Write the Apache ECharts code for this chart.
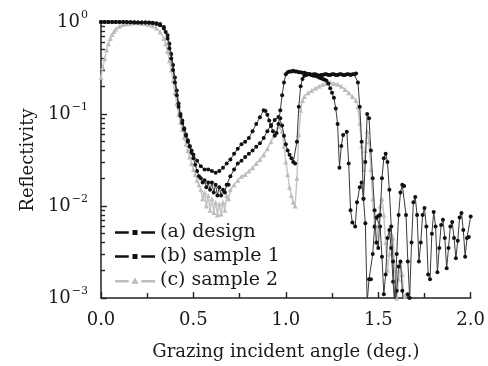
<!DOCTYPE html>
<html>
<head>
<meta charset="utf-8">
<script src="https://cdn.jsdelivr.net/npm/echarts@6/dist/echarts.min.js"></script>
<style>
  html, body { margin: 0; padding: 0; background: #fff; }
  #chart { width: 488px; height: 366px; }
</style>
</head>
<body>
<div id="chart"></div>
<script>
// grazing angle (deg.) , reflectivity
const designPts = [
  [0,1],[0.02,1],[0.04,1],[0.06,1],[0.08,1],[0.1,1],[0.12,1],[0.14,0.995],[0.16,0.995],[0.18,0.99],
  [0.2,0.99],[0.22,0.99],[0.24,0.985],[0.26,0.98],[0.28,0.97],[0.3,0.95],[0.32,0.92],[0.34,0.85],
  [0.35,0.78],[0.36,0.66],[0.37,0.52],[0.38,0.4],[0.39,0.3],[0.4,0.22],[0.41,0.16],[0.42,0.12],
  [0.43,0.095],[0.44,0.08],[0.45,0.068],[0.46,0.058],[0.47,0.05],[0.48,0.044],[0.49,0.04],[0.5,0.036],
  [0.52,0.031],[0.54,0.027],[0.56,0.025],[0.58,0.025],[0.6,0.024],[0.62,0.023],[0.64,0.024],[0.66,0.026],
  [0.68,0.029],[0.7,0.032],[0.72,0.037],[0.74,0.042],[0.76,0.047],[0.78,0.05],[0.8,0.055],[0.82,0.065],
  [0.84,0.078],[0.86,0.092],[0.88,0.11],[0.89,0.108],[0.9,0.098],[0.91,0.085],[0.92,0.074],[0.93,0.065],
  [0.94,0.058],[0.95,0.062],[0.96,0.078],[0.97,0.11],[0.98,0.16],[0.99,0.22],[1,0.27],[1.01,0.285],[1.02,0.29],
  [1.03,0.29],[1.04,0.295],[1.05,0.29],[1.06,0.29],[1.07,0.285],[1.08,0.285],[1.09,0.28],[1.1,0.28],[1.11,0.275],
  [1.12,0.27],[1.13,0.27],[1.14,0.265],[1.15,0.27],[1.16,0.27],[1.17,0.265],[1.18,0.26],[1.19,0.265],
  [1.2,0.265],[1.21,0.27],[1.22,0.27],[1.23,0.265],[1.24,0.265],[1.25,0.27],[1.26,0.27],[1.27,0.265],
  [1.28,0.265],[1.29,0.27],[1.3,0.27],[1.31,0.265],[1.32,0.265],[1.33,0.27],[1.34,0.27],[1.35,0.265],
  [1.36,0.27],[1.37,0.27],[1.38,0.275],[1.39,0.22],[1.4,0.12],[1.41,0.05],[1.42,0.012],[1.43,0.03],[1.44,0.1],
  [1.45,0.09],[1.46,0.04],[1.47,0.02],[1.48,0.009],[1.49,0.004],[1.5,0.0035],[1.51,0.008],[1.52,0.02],
  [1.53,0.033],[1.54,0.037],[1.55,0.03],[1.56,0.015],[1.57,0.006],[1.58,0.0025],[1.59,0.0008],[1.6,0.003],
  [1.61,0.008],[1.62,0.014],[1.63,0.017],[1.64,0.0165],[1.65,0.008],[1.66,0.0025],[1.67,0.001],[1.68,0.004],
  [1.69,0.011],[1.7,0.0125],[1.71,0.008],[1.72,0.0025],[1.73,0.004],[1.74,0.008],[1.75,0.0095],[1.76,0.006],
  [1.77,0.0018],[1.78,0.0016],[1.79,0.005],[1.8,0.0086],[1.81,0.006],[1.82,0.0019],[1.83,0.0035],[1.84,0.0062],
  [1.85,0.0071],[1.86,0.0045],[1.87,0.0021],[1.88,0.0035],[1.89,0.006],[1.9,0.0067],[1.91,0.0045],[1.92,0.0027],
  [1.93,0.0042],[1.94,0.0075],[1.95,0.0084],[1.96,0.0055],[1.97,0.0028],[1.98,0.0045],[1.99,0.0046],[2,0.0077]
];

const sample1Pts = [
  [0,1],[0.02,1],[0.04,1],[0.06,1],[0.08,1],[0.1,1],[0.12,1],[0.14,1],[0.16,0.995],[0.18,0.995],
  [0.2,0.99],[0.22,0.99],[0.24,0.99],[0.26,0.985],[0.28,0.98],[0.3,0.97],[0.32,0.95],[0.34,0.88],
  [0.36,0.72],[0.37,0.58],[0.38,0.45],[0.39,0.34],[0.4,0.25],[0.41,0.18],[0.42,0.13],[0.43,0.1],
  [0.44,0.085],[0.45,0.07],[0.46,0.06],[0.47,0.052],[0.48,0.045],[0.49,0.038],[0.5,0.033],[0.51,0.028],
  [0.52,0.024],[0.53,0.021],[0.54,0.02],[0.55,0.018],[0.56,0.019],[0.57,0.016],[0.58,0.018],[0.59,0.015],
  [0.6,0.018],[0.61,0.014],[0.62,0.017],[0.63,0.013],[0.64,0.016],[0.65,0.013],[0.66,0.015],[0.67,0.014],
  [0.68,0.017],[0.69,0.017],[0.7,0.021],[0.72,0.025],[0.74,0.029],[0.76,0.031],[0.78,0.034],[0.8,0.037],
  [0.82,0.04],[0.84,0.044],[0.86,0.048],[0.88,0.055],[0.9,0.065],[0.92,0.076],[0.94,0.086],[0.96,0.093],
  [0.97,0.09],[0.98,0.075],[0.99,0.058],[1,0.047],[1.01,0.04],[1.02,0.036],[1.03,0.033],[1.04,0.03],
  [1.05,0.029],[1.06,0.05],[1.07,0.12],[1.08,0.2],[1.09,0.24],[1.1,0.26],[1.11,0.265],[1.12,0.27],[1.13,0.27],
  [1.14,0.265],[1.15,0.26],[1.16,0.26],[1.17,0.255],[1.18,0.25],[1.19,0.245],[1.2,0.24],[1.21,0.235],
  [1.22,0.23],[1.23,0.215],[1.24,0.19],[1.25,0.17],[1.26,0.15],[1.27,0.115],[1.28,0.078],[1.29,0.026],
  [1.3,0.045],[1.31,0.059],[1.33,0.064],[1.34,0.029],[1.35,0.009],[1.36,0.0066],[1.375,0.006],[1.385,0.011],
  [1.4,0.016],[1.41,0.018],[1.42,0.012],[1.43,0.0065],[1.44,0.0009],[1.45,0.0016],[1.46,0.0016],[1.47,0.003],
  [1.48,0.006],[1.49,0.0075],[1.5,0.0078],[1.51,0.006],[1.52,0.0028],[1.53,0.0011],[1.54,0.0018],[1.55,0.0045],
  [1.56,0.0055],[1.57,0.0035],[1.58,0.0015],[1.59,0.0008],[1.6,0.0012],[1.61,0.0022],[1.62,0.0025],[1.63,0.0012],
  [1.64,0.0007],[1.65,0.0009],[1.66,0.0011],[1.67,0.0005]
];

const sample2Pts = [
  [0,0.25],[0.01,0.32],[0.02,0.4],[0.03,0.5],[0.04,0.58],[0.05,0.66],[0.06,0.73],[0.07,0.79],[0.08,0.84],
  [0.1,0.9],[0.12,0.94],[0.14,0.96],[0.16,0.97],[0.18,0.98],[0.2,0.98],[0.22,0.97],[0.24,0.96],[0.26,0.94],
  [0.28,0.91],[0.3,0.86],[0.32,0.78],[0.34,0.66],[0.35,0.58],[0.36,0.48],[0.37,0.38],[0.38,0.3],[0.39,0.23],
  [0.4,0.17],[0.41,0.13],[0.42,0.1],[0.43,0.082],[0.44,0.068],[0.45,0.056],[0.46,0.047],[0.47,0.04],
  [0.48,0.034],[0.49,0.029],[0.5,0.025],[0.51,0.022],[0.52,0.019],[0.53,0.017],[0.54,0.015],[0.55,0.012],
  [0.56,0.014],[0.57,0.01],[0.58,0.013],[0.59,0.009],[0.6,0.012],[0.61,0.0085],[0.62,0.011],[0.63,0.008],
  [0.64,0.0105],[0.65,0.0082],[0.66,0.011],[0.67,0.009],[0.68,0.013],[0.69,0.012],[0.7,0.015],[0.72,0.017],
  [0.74,0.019],[0.76,0.021],[0.78,0.022],[0.8,0.024],[0.82,0.026],[0.84,0.029],[0.86,0.032],[0.88,0.036],
  [0.9,0.042],[0.92,0.05],[0.94,0.062],[0.96,0.073],[0.97,0.075],[0.98,0.065],[0.99,0.045],[1,0.03],
  [1.01,0.022],[1.02,0.016],[1.03,0.013],[1.04,0.011],[1.05,0.01],[1.06,0.02],[1.07,0.06],[1.08,0.11],
  [1.09,0.14],[1.1,0.155],[1.12,0.17],[1.14,0.18],[1.16,0.19],[1.18,0.2],[1.2,0.21],[1.22,0.215],[1.24,0.22],
  [1.26,0.215],[1.28,0.21],[1.3,0.2],[1.32,0.185],[1.34,0.17],[1.36,0.155],[1.38,0.14],[1.39,0.12],
  [1.4,0.08],[1.41,0.045],[1.42,0.025],[1.43,0.04],[1.44,0.065],[1.45,0.05],[1.46,0.025],[1.47,0.012],
  [1.48,0.006],[1.49,0.004],[1.5,0.006],[1.51,0.01],[1.52,0.012],[1.53,0.008],[1.54,0.004],[1.55,0.002],
  [1.56,0.003],[1.57,0.005],[1.58,0.0045],[1.59,0.002],[1.6,0.001],[1.61,0.0016],[1.62,0.0025],[1.63,0.0018],
  [1.64,0.0009],[1.65,0.0011],[1.66,0.0007]
];

const seriesNames = ['(a) design', '(b) sample 1', '(c) sample 2'];
// major and minor tick positions as decimal exponents
const yMajorExp = [-3, -2, -1, 0];
const yMinorExp = [
  -2.699,-2.523,-2.398,-2.301,-2.222,-2.155,-2.097,-2.046,
  -1.699,-1.523,-1.398,-1.301,-1.222,-1.155,-1.097,-1.046,
  -0.699,-0.523,-0.398,-0.301,-0.222,-0.155,-0.097,-0.046
];
const expLabel = { 1: '0', 0.1: '−1', 0.01: '−2', 0.001: '−3' };

const FONT = '"DejaVu Serif", "Liberation Serif", serif';
const iconDot = 'path://M0,3h11v2h-11z M14,2h4v4h-4z M21,3h11v2h-11z';
const iconTri = 'path://M0,3h11v2h-11z M13,6l3,-5l3,5z M21,3h11v2h-11z';

const tickLine = { color: '#222', width: 1.4 };

const chart = echarts.init(document.getElementById('chart'), null, { renderer: 'canvas' });

chart.setOption({
  backgroundColor: '#fff',
  animation: false,
  grid: { left: 101, right: 16, top: 22, bottom: 68 },
  legend: {
    orient: 'vertical',
    left: 110,
    top: 218,
    itemWidth: 40,
    itemHeight: 8,
    itemGap: 5,
    textStyle: { fontFamily: FONT, fontSize: 19, color: '#1a1a1a' },
    data: [
      { name: seriesNames[0], icon: iconDot },
      { name: seriesNames[1], icon: iconDot },
      { name: seriesNames[2], icon: iconTri }
    ]
  },
  xAxis: {
    type: 'value',
    min: 0,
    max: 2,
    interval: 0.5,
    name: 'Grazing incident angle (deg.)',
    nameLocation: 'middle',
    nameGap: 45,
    nameTextStyle: { fontFamily: FONT, fontSize: 18, color: '#1a1a1a' },
    axisLine: { onZero: false, lineStyle: { color: '#222', width: 1.5 } },
    axisTick: { inside: true, length: 6, lineStyle: tickLine },
    minorTick: { show: true, splitNumber: 2, length: 5, lineStyle: tickLine },
    splitLine: { show: false },
    axisLabel: {
      margin: 13,
      fontFamily: FONT,
      fontSize: 18,
      color: '#1a1a1a',
      formatter: (v) => v.toFixed(1)
    }
  },
  yAxis: [
    {
      type: 'log',
      logBase: 10,
      min: 0.001,
      max: 1,
      name: 'Reflectivity',
      nameLocation: 'middle',
      nameGap: 62,
      nameTextStyle: { fontFamily: FONT, fontSize: 18, color: '#1a1a1a' },
      axisLine: { show: true, onZero: false, lineStyle: { color: '#222', width: 1.5 } },
      axisTick: { show: false },
      splitLine: { show: false },
      axisLabel: {
        margin: 13,
        formatter: (v) => '{b|10}{s|' + expLabel[v] + '}',
        rich: {
          b: { fontFamily: FONT, fontSize: 18, color: '#1a1a1a' },
          s: { fontFamily: FONT, fontSize: 11, color: '#1a1a1a', padding: [0, 0, 14, 1] }
        }
      }
    },
    {
      // linear axis over the exponent: major log ticks
      type: 'value',
      min: -3,
      max: 0,
      interval: 1,
      position: 'left',
      axisLine: { show: false, onZero: false },
      axisLabel: { show: false },
      splitLine: { show: false },
      axisTick: { show: true, inside: true, length: 6, customValues: yMajorExp, lineStyle: tickLine }
    },
    {
      // linear axis over the exponent: minor log ticks (2..9)
      type: 'value',
      min: -3,
      max: 0,
      interval: 1,
      position: 'left',
      axisLine: { show: false, onZero: false },
      axisLabel: { show: false },
      splitLine: { show: false },
      axisTick: { show: true, inside: true, length: 4, customValues: yMinorExp, lineStyle: tickLine }
    }
  ],
  series: [
    {
      name: seriesNames[0],
      type: 'line',
      z: 4,
      data: designPts,
      symbol: 'circle',
      symbolSize: 4,
      itemStyle: { color: '#111' },
      lineStyle: { color: '#3a3a3a', width: 1 }
    },
    {
      name: seriesNames[1],
      type: 'line',
      z: 3,
      data: sample1Pts,
      symbol: 'circle',
      symbolSize: 4,
      itemStyle: { color: '#111' },
      lineStyle: { color: '#3a3a3a', width: 1 }
    },
    {
      name: seriesNames[2],
      type: 'line',
      z: 2,
      data: sample2Pts,
      symbol: 'triangle',
      symbolSize: 5,
      itemStyle: { color: '#bdbdbd' },
      lineStyle: { color: '#c6c6c6', width: 1.5 }
    }
  ]
});
</script>
</body>
</html>
